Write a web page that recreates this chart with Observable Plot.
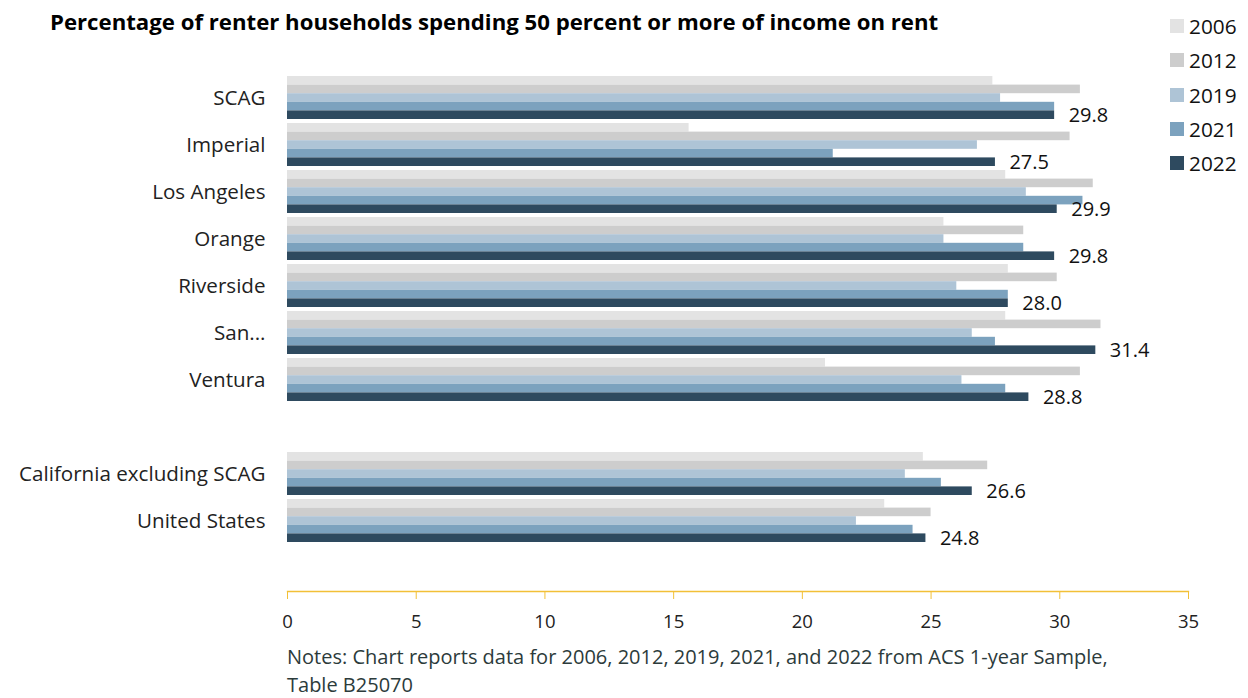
<!DOCTYPE html>
<html>
<head>
<meta charset="utf-8">
<script src="https://cdn.jsdelivr.net/npm/d3@7"></script>
<script src="https://cdn.jsdelivr.net/npm/@observablehq/plot@0.6"></script>
<style>
  html, body { margin: 0; padding: 0; background: #fff; }
  body { width: 1248px; height: 698px; position: relative; overflow: hidden; font-family: "Open Sans", "Noto Sans", sans-serif; }
  #title { position: absolute; left: 50px; top: 8px; font-size: 22.2px; font-weight: 700; color: #000; white-space: nowrap; line-height: 28px; }
  #chart { position: absolute; left: 0; top: 44px; }
  #legend { position: absolute; left: 1170px; top: 9px; }
  .li { display: flex; align-items: center; height: 34.3px; font-size: 20.8px; color: #111; }
  .sw { width: 14px; height: 14px; margin-right: 5px; }
  .note { position: absolute; left: 287px; height: 27.3px; font-size: 20px; line-height: 27.3px; color: #2c3b3b; white-space: nowrap; }
</style>
</head>
<body>
<div id="title">Percentage of renter households spending 50 percent or more of income on rent</div>
<div id="chart"></div>
<div id="legend"></div>
<div class="note" style="top:643px">Notes: Chart reports data for 2006, 2012, 2019, 2021, and 2022 from ACS 1-year Sample,</div>
<div class="note" style="top:670.5px">Table B25070</div>
<script>
const categories = ["SCAG", "Imperial", "Los Angeles", "Orange", "Riverside", "San Bernardino", "Ventura", "California excluding SCAG", "United States"];
const years = ["2006", "2012", "2019", "2021", "2022"];
const v2006 = [27.4, 15.6, 27.9, 25.5, 28.0, 27.9, 20.9, 24.7, 23.2];
const v2012 = [30.8, 30.4, 31.3, 28.6, 29.9, 31.6, 30.8, 27.2, 25.0];
const v2019 = [27.7, 26.8, 28.7, 25.5, 26.0, 26.6, 26.2, 24.0, 22.1];
const v2021 = [29.8, 21.2, 30.9, 28.6, 28.0, 27.5, 27.9, 25.4, 24.3];
const v2022 = [29.8, 27.5, 29.9, 29.8, 28.0, 31.4, 28.8, 26.6, 24.8];
const xTicks = [0, 5, 10, 15, 20, 25, 30, 35];
const colors = ["#e3e3e3", "#cdcdcd", "#aec4d6", "#7ca2be", "#2e4a5f"];

const series = [v2006, v2012, v2019, v2021, v2022];
const data = [];
years.forEach((yr, i) => categories.forEach((c, j) => data.push({category: c, year: yr, value: series[i][j]})));

// y slots with blank spacer rows
const yDomain = [...categories.slice(0, 7), "", ...categories.slice(7), " "];
const labelMap = {"San Bernardino": "San..."};

const marginTop = 30, bandArea = 517;
const step = bandArea / yDomain.length;
const bw = step * 0.915;
const bh = bw / years.length;

const marks = years.map((yr, i) => Plot.barX(data.filter(d => d.year === yr), {
  x: "value", y: "category", fill: colors[i],
  insetTop: i * bh, insetBottom: bw - (i + 1) * bh
}));

const chart = Plot.plot({
  width: 1248,
  height: 600,
  marginLeft: 287,
  marginRight: 60,
  marginTop: marginTop,
  marginBottom: 53,
  style: {fontFamily: "'Open Sans', 'Noto Sans', sans-serif", background: "transparent"},
  x: {domain: [0, 35], ticks: xTicks, label: null},
  y: {domain: yDomain, paddingInner: 0.085, paddingOuter: 0.0425, label: null},
  marks: [
    ...marks,
    Plot.text(data.filter(d => d.year === "2022"), {
      x: "value", y: "category", text: d => d.value.toFixed(1),
      textAnchor: "start", dx: 14, dy: bw / 2 - bh / 2, fontSize: 20, fill: "#111"
    }),
    Plot.axisY({tickSize: 0, tickPadding: 22, fontSize: 20.6, tickFormat: d => labelMap[d] ?? d, color: "#222", label: null}),
    Plot.axisX({ticks: xTicks, tickSize: 8, tickPadding: 15, fontSize: 18.5, stroke: "#f2c037", color: "#222", label: null}),
    Plot.frame({anchor: "bottom", stroke: "#f2c037", strokeWidth: 1.3})
  ]
});
document.getElementById("chart").appendChild(chart);
chart.querySelectorAll('g[aria-label="x-axis tick label"]').forEach(e => e.setAttribute("fill", "#222"));

const legend = document.getElementById("legend");
years.forEach((yr, i) => {
  const row = document.createElement("div");
  row.className = "li";
  row.innerHTML = `<span class="sw" style="background:${colors[i]}"></span><span>${yr}</span>`;
  legend.appendChild(row);
});
</script>
</body>
</html>
